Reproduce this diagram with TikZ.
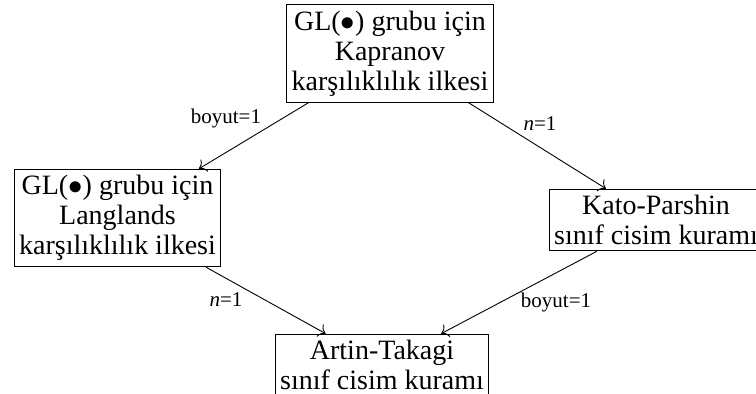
\documentclass[tikz,border=0pt]{standalone}
\usepackage{fontspec}
\setmainfont{Liberation Serif}
\usetikzlibrary{arrows.meta}
\begin{document}
\begin{tikzpicture}[x=0.5pt,y=-0.5pt,
  box/.style={draw, align=center, font=\fontsize{14}{15}\selectfont, inner xsep=2.5pt, inner ysep=3pt, line width=0.5pt},
  lbl/.style={font=\fontsize{10.5}{12}\selectfont, inner sep=1pt},
  arr/.style={-{To[scale=1.3]}, line width=0.45pt}]
\useasboundingbox (0,0) rectangle (756,394);
\node[box] (top) at (390,53.5) {GL($\bullet$) grubu için\\Kapranov\\karşılıklılık ilkesi};
\node[box] (left) at (117.5,218) {GL($\bullet$) grubu için\\Langlands\\karşılıklılık ilkesi};
\node[box] (right) at (656,220) {Kato-Parshin\\sınıf cisim kuramı};
\node[box] (bot) at (382,365) {Artin-Takagi\\sınıf cisim kuramı};
\draw[arr] (top) -- (left);
\draw[arr] (top) -- (right);
\draw[arr] (left) -- (bot);
\draw[arr] (right) -- (bot);
\node[lbl] (l1) at (226,118) {boyut=1};
\node[lbl] (l2) at (540,124) {\textit{n}=1};
\node[lbl] (l3) at (226,300) {\textit{n}=1};
\node[lbl] (l4) at (556,302) {boyut=1};
\end{tikzpicture}
\end{document}
